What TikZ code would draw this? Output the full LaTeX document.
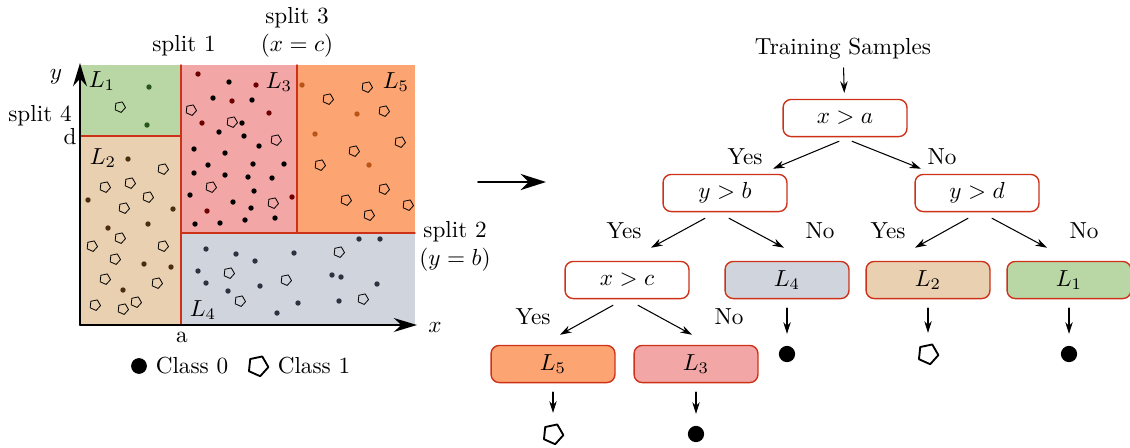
\documentclass[tikz,border=0pt]{standalone}
\usetikzlibrary{arrows.meta,calc,shapes.geometric}
\definecolor{leafgreen}{RGB}{185,215,165}
\definecolor{leaftan}{RGB}{233,208,176}
\definecolor{leafpink}{RGB}{242,166,166}
\definecolor{leaforange}{RGB}{252,165,115}
\definecolor{leafgray}{RGB}{208,212,220}
\definecolor{splitred}{RGB}{205,50,25}
\definecolor{dotgreen}{RGB}{40,85,25}
\definecolor{dotbrown}{RGB}{75,45,15}
\definecolor{dotred}{RGB}{110,0,0}
\definecolor{dotorange}{RGB}{185,85,25}
\definecolor{dotslate}{RGB}{45,50,65}

\begin{document}
\begin{tikzpicture}[x=0.431pt,y=-0.431pt,line cap=round,line join=round,
  splitline/.style={draw=splitred,line width=0.6pt},
  axisline/.style={line width=0.8pt,-{Stealth[length=10pt,width=6pt]}},
  bigarrow/.style={line width=0.7pt,-{Stealth[length=11pt,width=7pt]}},
  testbox/.style={draw=splitred,line width=0.6pt,rounded corners=3.5pt,minimum width=53.4pt,minimum height=16pt,inner sep=1pt},
  leafbox/.style={testbox,fill=#1},
  edge/.style={-{Stealth[length=5pt,width=3.2pt]},line width=0.45pt},
  feed/.style={edge,shorten <=3.8pt,shorten >=5pt},
  classzero/.style={circle,fill=black,inner sep=0pt,minimum size=#1},
  classone/.style={regular polygon,regular polygon sides=5,shape border rotate=-24,draw,inner sep=0pt,minimum size=#1},
  scatterone/.style={classone=4.8pt,line width=0.35pt}]
\useasboundingbox (0,0) rectangle (1130,447);

% feature space
\fill[leafgreen] (80,65) rectangle (181,136);
\fill[leaftan] (80,136) rectangle (181,325);
\fill[leafpink] (181,65) rectangle (297,233);
\fill[leaforange] (297,65) rectangle (415,233);
\fill[leafgray] (181,233) rectangle (415,325);
\draw[splitline] (181,65) -- (181,325);
\draw[splitline] (80,136) -- (181,136);
\draw[splitline] (181,233) -- (415,233);
\draw[splitline] (297,65) -- (297,233);

\foreach \p in {(149,87),(147,125)} \fill[dotgreen] \p circle (2.7);
\foreach \p in {(128,159),(88,200),(173,209),(108,228),(148,224),(144,264),(171,267),(123,290)}
  \fill[dotbrown] \p circle (2.7);
\foreach \p in {(198,74),(256,85),(232,101),(269,113),(202,123),(292,197),(207,211)}
  \fill[dotred] \p circle (2.7);
\foreach \p in {(229,82),(213,98),(252,100),(242,123),(219,132),(244,136),(259,146),(194,149),
  (225,153),(208,165),(253,164),(284,164),(194,173),(225,175),(248,177),(272,178),(254,191),
  (190,195),(233,202),(251,208),(195,224),(220,223),(245,220),(275,218)}
  \fill[black] \p circle (2.7);
\foreach \p in {(302,85),(357,114),(315,134),(369,165)} \fill[dotorange] \p circle (2.7);
\foreach \p in {(206,249),(236,254),(255,261),(294,253),(359,239),(380,239),(198,271),(206,283),
  (228,291),(260,286),(332,275),(341,277),(377,284),(298,303),(339,301),(277,313)}
  \fill[dotslate] \p circle (2.7);

\foreach \p [count=\i] in {(120,107),(163,169),(105,187),(130,183),(148,197),(124,208),(120,238),
  (92,246),(163,246),(115,259),(105,279),(157,283),(95,305),(123,309),(136,302)}
  \node[scatterone] (pleft\i) at \p {};
\foreach \p [count=\i] in {(191,110),(232,122),(276,140),(211,187),(273,203),(367,87),(328,99),
  (384,111),(400,142),(354,151),(320,165),(384,189),(346,200),(408,205),(369,215),
  (339,252),(229,273),(286,280),(240,301),(363,299)}
  \node[scatterone] (pright\i) at \p {};

\draw[axisline] (80,325) -- (417,325);
\draw[axisline] (80,325) -- (80,63);

\node (lbone) at (102,81) {$L_1$};
\node (lbtwo) at (103,158) {$L_2$};
\node (lbthree) at (279,82) {$L_3$};
\node (lbfour) at (203,310) {$L_4$};
\node (lbfive) at (396,82) {$L_5$};
\node (splitone) at (184,46) {split 1};
\node[align=center] (splitthree) at (297,32) {split 3\\$(x=c)$};
\node[align=center] (splittwo) at (455,246) {split 2\\$(y=b)$};
\node (splitfour) at (40,116) {split 4};
\node (tickd) at (70,137) {d};
\node (ticka) at (182,337) {a};
\node (axisy) at (56,77) {$y$};
\node (axisx) at (435,327) {$x$};

\node[classzero=6.8pt] (keyzero) at (139,366) {};
\node (keyzerotext) at (192,366) {Class 0};
\node[classone=9pt,line width=0.8pt] (keyone) at (258,366) {};
\node (keyonetext) at (314,366) {Class 1};

\coordinate (gapl) at (478,182);
\coordinate (gapr) at (546,182);
\draw[bigarrow] (gapl) -- (gapr);

% decision tree
\node (train) at (843,49) {Training Samples};
\node[testbox] (root) at (845,118) {$x>a$};
\node[testbox] (yb) at (725,193) {$y>b$};
\node[testbox] (yd) at (977,193) {$y>d$};
\node[testbox] (xc) at (627,280) {$x>c$};
\node[leafbox=leafgray] (lfour) at (787,280) {$L_4$};
\node[leafbox=leaftan] (ltwo) at (928,280) {$L_2$};
\node[leafbox=leafgreen] (lone) at (1069,280) {$L_1$};
\node[leafbox=leaforange] (lfive) at (553,364) {$L_5$};
\node[leafbox=leafpink] (lthree) at (696,364) {$L_3$};

\node (yesa) at (745,157) {Yes};
\node (noa) at (942,157) {No};
\node (yesb) at (624,231) {Yes};
\node (nob) at (820,231) {No};
\node (yesc) at (888,231) {Yes};
\node (noc) at (1084,231) {No};
\node (yesd) at (533,317) {Yes};
\node (nod) at (729,317) {No};

\draw[edge,shorten >=2.5pt] (train) -- (root);
\draw[edge] ($(root.south)+(-6,4)$) -- ($(yb.north)+(48,-5)$);
\draw[edge] ($(root.south)+(7,4)$) -- ($(yd.north)+(-56,-5)$);
\draw[edge] ($(yb.south)+(-20,6)$) -- ($(xc.north)+(24,-13)$);
\draw[edge] ($(yb.south)+(4,6)$) -- ($(lfour.north)+(-3,-13)$);
\draw[edge] ($(yd.south)+(-9,6)$) -- ($(ltwo.north)+(-13,-13)$);
\draw[edge] ($(yd.south)+(15,6)$) -- ($(lone.north)+(-22,-13)$);
\draw[edge] ($(xc.south)+(-14,6)$) -- ($(lfive.north)+(7,-10)$);
\draw[edge] ($(xc.south)+(11,6)$) -- ($(lthree.north)+(-4,-10)$);

\node[classone=9pt,line width=0.8pt] (outfive) at (553,434) {};
\node[classzero=7pt] (outthree) at (696,434) {};
\node[classzero=7pt] (outfour) at (787,354) {};
\node[classone=9pt,line width=0.8pt] (outtwo) at (928,354) {};
\node[classzero=7pt] (outone) at (1069,354) {};
\draw[feed] (lfive) -- (outfive);
\draw[feed] (lthree) -- (outthree);
\draw[feed] (lfour) -- (outfour);
\draw[feed] (ltwo) -- (outtwo);
\draw[feed] (lone) -- (outone);
\end{tikzpicture}
\end{document}
